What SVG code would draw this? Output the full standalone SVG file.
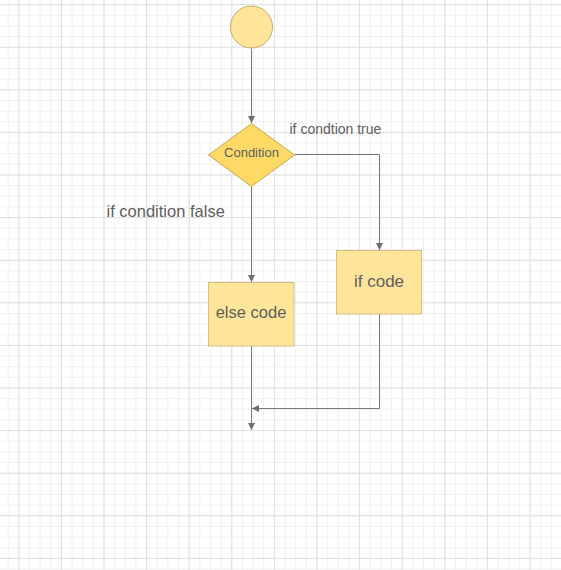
<svg xmlns="http://www.w3.org/2000/svg" width="561" height="570" viewBox="0 0 561 570">
<style>
.node{stroke-width:1}
.lbl{font-family:"Liberation Sans",Arial,sans-serif;fill:#5e5e5e}
.conn{fill:none;stroke:#7a7a7a;stroke-width:1}
</style>
<defs>
<pattern id="minor" x="18.3" y="4.1" width="10.65" height="10.65" patternUnits="userSpaceOnUse">
<path d="M0.5 0V10.65M0 0.5H10.65" stroke="#f0f0f0" stroke-width="1" fill="none"/>
</pattern>
<pattern id="major" x="18.3" y="4.1" width="42.6" height="42.6" patternUnits="userSpaceOnUse">
<path d="M0.5 0V42.6M0 0.5H42.6" stroke="#e0e0e0" stroke-width="1" fill="none"/>
</pattern>
<marker id="arr" viewBox="0 0 10 10" refX="10" refY="5" markerWidth="7" markerHeight="7" markerUnits="userSpaceOnUse" orient="auto">
<path d="M0 0L10 5L0 10Z" fill="#6e6e6e"/>
</marker>
</defs>
<rect width="561" height="570" fill="#ffffff"/>
<rect width="561" height="570" fill="url(#minor)"/>
<rect width="561" height="570" fill="url(#major)"/>

<g id="connectors">
<path class="conn" d="M251.5 48.5V123" marker-end="url(#arr)"/>
<path class="conn" d="M294.5 154.5H379.5V250" marker-end="url(#arr)"/>
<path class="conn" d="M251.5 186V282" marker-end="url(#arr)"/>
<path class="conn" d="M251.5 346V430" marker-end="url(#arr)"/>
<path class="conn" d="M379.5 314V408.5H252" marker-end="url(#arr)"/>
<text class="lbl" x="289.5" y="133.5" font-size="14">if condtion true</text>
<text class="lbl" x="106.5" y="216.5" font-size="16.5">if condition false</text>
</g>

<g id="start">
<circle class="node" cx="251.5" cy="27" r="21" fill="#ffe59a" stroke="#c2ab72"/>
</g>

<g id="condition">
<polygon class="node" points="251.5,123.5 294.5,155 251.5,186.5 208.5,155" fill="#ffd966" stroke="#c7a850"/>
<text class="lbl" x="251.5" y="157" font-size="13" text-anchor="middle">Condition</text>
</g>

<g id="ifcode">
<rect class="node" x="336.5" y="250.5" width="85" height="63.5" fill="#ffe59a" stroke="#d2bc84"/>
<text class="lbl" x="379" y="286.5" font-size="17" text-anchor="middle">if code</text>
</g>

<g id="elsecode">
<rect class="node" x="208.5" y="282.5" width="85.5" height="63.5" fill="#ffe59a" stroke="#d2bc84"/>
<text class="lbl" x="251" y="317.5" font-size="16.5" text-anchor="middle">else code</text>
</g>
</svg>
